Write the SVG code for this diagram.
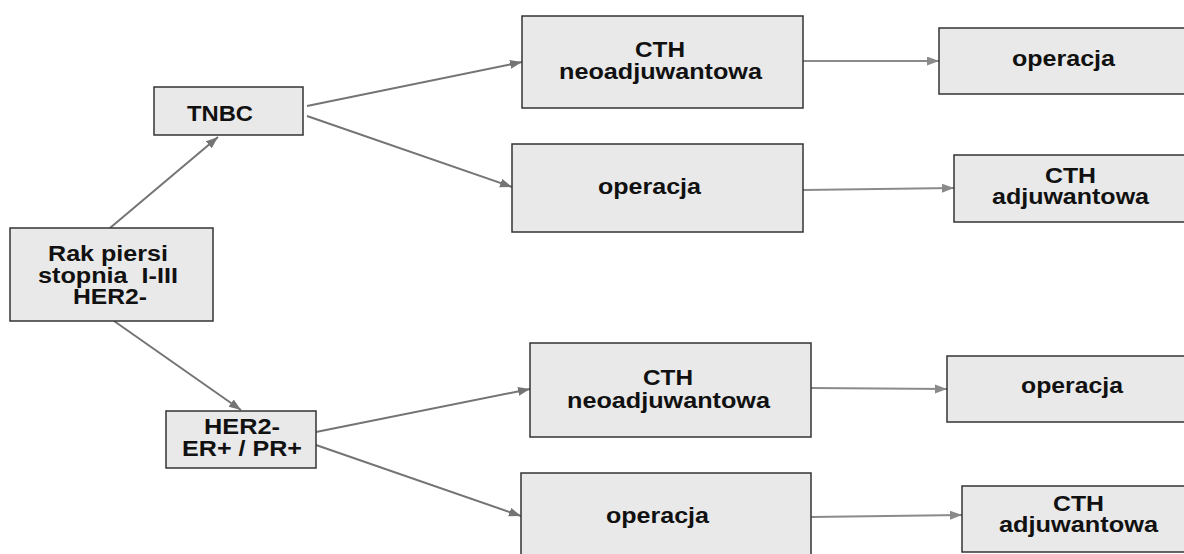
<svg xmlns="http://www.w3.org/2000/svg" width="1184" height="554" viewBox="0 0 1184 554">
  <defs>
    <marker id="arrow" markerUnits="userSpaceOnUse" markerWidth="14" markerHeight="10" refX="12" refY="4.5" orient="auto">
      <path d="M0,0 L12,4.5 L0,9 Z" fill="#747474"/>
    </marker>
    <marker id="arrowLight" markerUnits="userSpaceOnUse" markerWidth="14" markerHeight="10" refX="12" refY="4.5" orient="auto">
      <path d="M0,0 L12,4.5 L0,9 Z" fill="#8a8a8a"/>
    </marker>
  </defs>
  <style>
    .box { fill: #e9e9e9; stroke: #333333; stroke-width: 1.5; }
    .lbl { font-family: "Liberation Sans", Arial, sans-serif; font-weight: bold; font-size: 21.5px; fill: #111111; }
    .edge { fill: none; stroke: #747474; stroke-width: 2; marker-end: url(#arrow); }
    .edge.light { stroke: #8a8a8a; marker-end: url(#arrowLight); }
  </style>
  <rect width="1184" height="554" fill="#ffffff"/>

  <!-- connectors -->
  <g id="connectors">
    <line class="edge" x1="110" y1="228" x2="218" y2="137"/>
    <line class="edge" x1="114" y1="321" x2="241" y2="410"/>
    <line class="edge" x1="307" y1="106" x2="522" y2="62"/>
    <line class="edge" x1="307" y1="116" x2="512" y2="187"/>
    <line class="edge" x1="316" y1="432" x2="530" y2="389"/>
    <line class="edge" x1="316" y1="445" x2="521" y2="516"/>
    <line class="edge light" x1="803" y1="61" x2="939" y2="61"/>
    <line class="edge light" x1="803" y1="190" x2="954" y2="188"/>
    <line class="edge light" x1="811" y1="388" x2="947" y2="389"/>
    <line class="edge light" x1="811" y1="517" x2="962" y2="515"/>
  </g>

  <!-- root -->
  <g id="rak-piersi">
    <rect class="box" x="10" y="228" width="203" height="93"/>
    <text class="lbl" x="48" y="261" textLength="120" lengthAdjust="spacingAndGlyphs">Rak piersi</text>
    <text class="lbl" x="38" y="283" textLength="140" lengthAdjust="spacingAndGlyphs" xml:space="preserve">stopnia  I-III</text>
    <text class="lbl" x="73" y="304" textLength="74" lengthAdjust="spacingAndGlyphs">HER2-</text>
  </g>

  <!-- TNBC branch -->
  <g id="tnbc">
    <rect class="box" x="154" y="87" width="149" height="48"/>
    <text class="lbl" x="187" y="121" textLength="66" lengthAdjust="spacingAndGlyphs">TNBC</text>
  </g>
  <g id="tnbc-cth-neo">
    <rect class="box" x="522" y="16" width="281" height="92"/>
    <text class="lbl" x="635" y="57" textLength="50" lengthAdjust="spacingAndGlyphs">CTH</text>
    <text class="lbl" x="559" y="79" textLength="203" lengthAdjust="spacingAndGlyphs">neoadjuwantowa</text>
  </g>
  <g id="tnbc-operacja">
    <rect class="box" x="512" y="144" width="291" height="88"/>
    <text class="lbl" x="598" y="194" textLength="103" lengthAdjust="spacingAndGlyphs">operacja</text>
  </g>
  <g id="tnbc-neo-operacja">
    <rect class="box" x="939" y="28" width="260" height="66"/>
    <text class="lbl" x="1012" y="66" textLength="103" lengthAdjust="spacingAndGlyphs">operacja</text>
  </g>
  <g id="tnbc-cth-adj">
    <rect class="box" x="954" y="155" width="240" height="67"/>
    <text class="lbl" x="1045" y="183" textLength="51" lengthAdjust="spacingAndGlyphs">CTH</text>
    <text class="lbl" x="992" y="204" textLength="157" lengthAdjust="spacingAndGlyphs">adjuwantowa</text>
  </g>

  <!-- HER2- ER+/PR+ branch -->
  <g id="her2-er-pr">
    <rect class="box" x="166" y="411" width="150" height="57"/>
    <text class="lbl" x="204" y="434" textLength="76" lengthAdjust="spacingAndGlyphs">HER2-</text>
    <text class="lbl" x="182" y="456" textLength="120" lengthAdjust="spacingAndGlyphs">ER+ / PR+</text>
  </g>
  <g id="her2-cth-neo">
    <rect class="box" x="530" y="343" width="281" height="94"/>
    <text class="lbl" x="643" y="385" textLength="50" lengthAdjust="spacingAndGlyphs">CTH</text>
    <text class="lbl" x="567" y="408" textLength="203" lengthAdjust="spacingAndGlyphs">neoadjuwantowa</text>
  </g>
  <g id="her2-operacja">
    <rect class="box" x="521" y="473" width="290" height="100"/>
    <text class="lbl" x="606" y="523" textLength="103" lengthAdjust="spacingAndGlyphs">operacja</text>
  </g>
  <g id="her2-neo-operacja">
    <rect class="box" x="947" y="356" width="250" height="66"/>
    <text class="lbl" x="1021" y="393" textLength="102" lengthAdjust="spacingAndGlyphs">operacja</text>
  </g>
  <g id="her2-cth-adj">
    <rect class="box" x="962" y="486" width="230" height="66"/>
    <text class="lbl" x="1053" y="511" textLength="51" lengthAdjust="spacingAndGlyphs">CTH</text>
    <text class="lbl" x="999" y="532" textLength="159" lengthAdjust="spacingAndGlyphs">adjuwantowa</text>
  </g>
</svg>
